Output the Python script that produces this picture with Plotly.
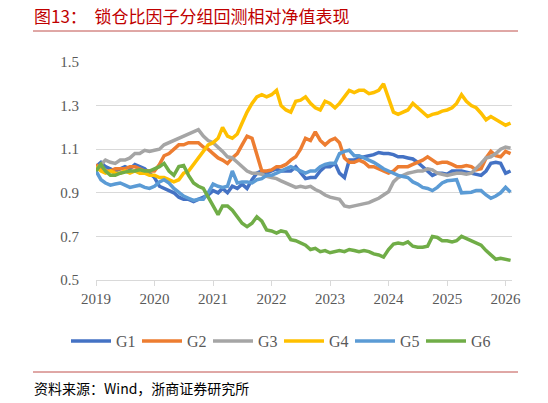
import pandas as pd
import plotly.graph_objects as go

# -----------------------------------------
# Data (monthly readings, Jan 2019 - Feb 2026)
# -----------------------------------------
dates = pd.date_range("2019-01-01", periods=86, freq="MS")

g1 = [1.02, 1.04, 1.02, 1.01, 1.00, 1.01, 1.02, 1.01, 1.03, 1.02, 1.01, 0.99,
      0.97, 0.93, 0.92, 0.91, 0.90, 0.88, 0.87, 0.87, 0.86, 0.87, 0.88, 0.89,
      0.91, 0.90, 0.92, 0.90, 0.93, 0.92, 0.94, 0.92, 0.96, 0.99, 1.00, 0.99,
      1.00, 1.01, 1.00, 1.00, 1.00, 1.02, 0.99, 0.965, 0.97, 0.97, 1.00, 1.02,
      1.02, 1.035, 0.99, 0.97, 1.05, 1.05, 1.06, 1.065, 1.07, 1.075, 1.085, 1.08,
      1.08, 1.075, 1.065, 1.065, 1.06, 1.055, 1.04, 1.02, 1.00, 0.98, 0.99, 0.99,
      0.985, 1.00, 1.00, 1.00, 0.995, 0.99, 0.985, 0.98, 1.00, 1.035, 1.04, 1.035,
      0.99, 1.00]

g2 = [1.03, 1.01, 1.00, 1.00, 1.01, 1.01, 1.01, 1.02, 1.02, 1.01, 1.00, 1.00,
      1.00, 1.03, 1.07, 1.08, 1.10, 1.12, 1.12, 1.13, 1.13, 1.13, 1.11, 1.10,
      1.08, 1.06, 1.05, 1.035, 1.06, 1.08, 1.12, 1.16, 1.15, 1.07, 1.00, 1.00,
      1.005, 1.02, 1.02, 1.03, 1.05, 1.065, 1.10, 1.15, 1.14, 1.18, 1.14, 1.12,
      1.14, 1.15, 1.13, 1.06, 1.04, 1.04, 1.05, 1.04, 1.02, 1.02, 1.01, 1.00,
      0.99, 1.00, 1.02, 1.02, 1.02, 1.03, 1.04, 1.05, 1.065, 1.05, 1.035, 1.04,
      1.04, 1.03, 1.02, 1.02, 1.025, 1.02, 1.005, 1.01, 1.06, 1.09, 1.07, 1.065,
      1.09, 1.08]

g3 = [1.00, 1.03, 1.05, 1.04, 1.035, 1.05, 1.05, 1.06, 1.08, 1.08, 1.095, 1.09,
      1.095, 1.10, 1.12, 1.13, 1.14, 1.15, 1.16, 1.17, 1.18, 1.19, 1.16, 1.14,
      1.13, 1.11, 1.09, 1.065, 1.06, 1.04, 1.02, 1.00, 0.99, 0.99, 0.985, 0.975,
      0.97, 0.965, 0.955, 0.945, 0.935, 0.925, 0.93, 0.925, 0.93, 0.915, 0.905, 0.89,
      0.88, 0.875, 0.87, 0.84, 0.835, 0.84, 0.845, 0.85, 0.855, 0.865, 0.875, 0.89,
      0.905, 0.95, 0.97, 0.98, 0.99, 0.995, 1.00, 1.00, 1.01, 1.005, 0.99, 0.985,
      0.98, 0.985, 0.99, 0.99, 0.985, 0.99, 1.01, 1.035, 1.06, 1.065, 1.08, 1.10,
      1.11, 1.105]

g4 = [1.02, 1.00, 0.99, 1.00, 0.99, 0.99, 1.00, 0.99, 1.00, 0.99, 0.99, 0.98,
      0.98, 0.97, 0.97, 0.96, 0.95, 0.96, 0.99, 1.00, 1.03, 1.06, 1.09, 1.12,
      1.13, 1.15, 1.20, 1.16, 1.15, 1.17, 1.22, 1.27, 1.31, 1.34, 1.35, 1.34,
      1.35, 1.37, 1.30, 1.28, 1.27, 1.32, 1.325, 1.34, 1.31, 1.29, 1.28, 1.32,
      1.31, 1.29, 1.31, 1.34, 1.37, 1.36, 1.37, 1.37, 1.355, 1.36, 1.37, 1.40,
      1.34, 1.27, 1.26, 1.27, 1.28, 1.31, 1.29, 1.27, 1.25, 1.26, 1.265, 1.275,
      1.28, 1.29, 1.31, 1.35, 1.32, 1.30, 1.29, 1.265, 1.235, 1.25, 1.235, 1.225,
      1.21, 1.22]

g5 = [1.00, 0.96, 0.945, 0.935, 0.94, 0.945, 0.935, 0.925, 0.93, 0.935, 0.925, 0.92,
      0.93, 0.95, 0.96, 0.945, 0.92, 0.90, 0.885, 0.875, 0.865, 0.87, 0.87, 0.90,
      0.94, 0.93, 0.925, 0.93, 1.00, 0.945, 0.95, 0.95, 0.945, 0.96, 0.965, 0.98,
      0.98, 0.99, 1.00, 1.01, 1.02, 1.01, 1.00, 0.99, 1.00, 1.00, 1.02, 1.03,
      1.035, 1.035, 1.08, 1.09, 1.095, 1.07, 1.07, 1.06, 1.05, 1.04, 1.025, 1.01,
      1.00, 0.99, 0.98, 0.975, 0.97, 0.95, 0.94, 0.925, 0.92, 0.91, 0.925, 0.945,
      0.955, 0.958, 0.96, 0.90, 0.90, 0.903, 0.91, 0.91, 0.89, 0.875, 0.885, 0.90,
      0.925, 0.903]

g6 = [1.00, 1.03, 1.00, 0.98, 0.98, 0.99, 0.995, 1.00, 1.00, 1.005, 1.00, 1.00,
      1.01, 1.02, 1.035, 1.00, 0.98, 1.02, 1.025, 0.98, 0.945, 0.93, 0.92, 0.88,
      0.84, 0.80, 0.84, 0.84, 0.82, 0.79, 0.76, 0.745, 0.76, 0.79, 0.77, 0.73,
      0.725, 0.715, 0.725, 0.72, 0.685, 0.68, 0.67, 0.66, 0.64, 0.645, 0.63, 0.635,
      0.625, 0.63, 0.635, 0.63, 0.64, 0.635, 0.63, 0.635, 0.63, 0.62, 0.615, 0.605,
      0.64, 0.665, 0.67, 0.665, 0.675, 0.655, 0.65, 0.65, 0.655, 0.70, 0.695, 0.68,
      0.68, 0.675, 0.68, 0.70, 0.69, 0.68, 0.67, 0.66, 0.635, 0.615, 0.595, 0.60,
      0.595, 0.59]

series = [
    ("G1", g1, "#4472C4"),
    ("G2", g2, "#ED7D31"),
    ("G3", g3, "#A5A5A5"),
    ("G4", g4, "#FFC000"),
    ("G5", g5, "#5B9BD5"),
    ("G6", g6, "#70AD47"),
]

SERIF = "Liberation Serif, Times New Roman, serif"
CJK = "Noto Sans CJK SC"
RED = "#C0504D"

fig = go.Figure()
for name, vals, color in series:
    fig.add_trace(go.Scatter(
        x=dates, y=vals, name=name, mode="lines",
        line=dict(color=color, width=3.5),
    ))

# plot area is 416 x 218 px; paper units below are px / those sizes
fig.update_layout(
    width=548, height=403,
    margin=dict(l=96, r=36, t=62, b=123, autoexpand=False),
    paper_bgcolor="white",
    plot_bgcolor="white",
    font=dict(family=SERIF, size=15, color="#595959"),
    showlegend=True,
    legend=dict(
        orientation="h",
        x=-30 / 416, xref="paper", xanchor="left",
        y=-44 / 218, yref="paper", yanchor="top",
        font=dict(family=SERIF, size=16, color="#595959"),
        itemwidth=40,
        entrywidth=16, entrywidthmode="pixels",
        tracegroupgap=0,
    ),
)

fig.update_xaxes(
    range=[pd.Timestamp("2019-01-01"), pd.Timestamp("2026-02-10")],
    tickformat="%Y", dtick="M12", tick0="2019-01-01",
    showgrid=False, showline=True, linecolor="#D9D9D9", linewidth=1,
    ticks="outside", ticklen=5, tickcolor="#D9D9D9",
    tickfont=dict(family=SERIF, size=15, color="#595959"),
)
fig.update_yaxes(
    range=[0.5, 1.5], dtick=0.2, tick0=0.5, tickformat=".1f",
    showgrid=True, gridcolor="#D9D9D9", gridwidth=1,
    zeroline=False, showline=False,
    ticklabelstandoff=16,
    tickfont=dict(family=SERIF, size=15, color="#595959"),
)

# Title and source, with red rules
fig.add_annotation(
    text="图13：  锁仓比因子分组回测相对净值表现",
    xref="paper", yref="paper", x=-64 / 416, y=1 + 47 / 218,
    xanchor="left", yanchor="middle", showarrow=False,
    font=dict(family=CJK, size=17, color="#C00000"),
)
fig.add_shape(type="line", xref="paper", yref="paper",
              x0=-63 / 416, x1=422 / 416, y0=1 + 31 / 218, y1=1 + 31 / 218,
              line=dict(color=RED, width=1))
fig.add_shape(type="line", xref="paper", yref="paper",
              x0=-63 / 416, x1=422 / 416, y0=-92 / 218, y1=-92 / 218,
              line=dict(color=RED, width=1))
fig.add_annotation(
    text="资料来源：Wind，浙商证券研究所",
    xref="paper", yref="paper", x=-64 / 416, y=-108 / 218,
    xanchor="left", yanchor="middle", showarrow=False,
    font=dict(family=CJK, size=14, color="#000000"),
)

# drop the browser's default page margin so the figure sits at the window corner
fig.write_html("out.html", config={"displayModeBar": False},
               post_script="document.body.style.margin='0';")
